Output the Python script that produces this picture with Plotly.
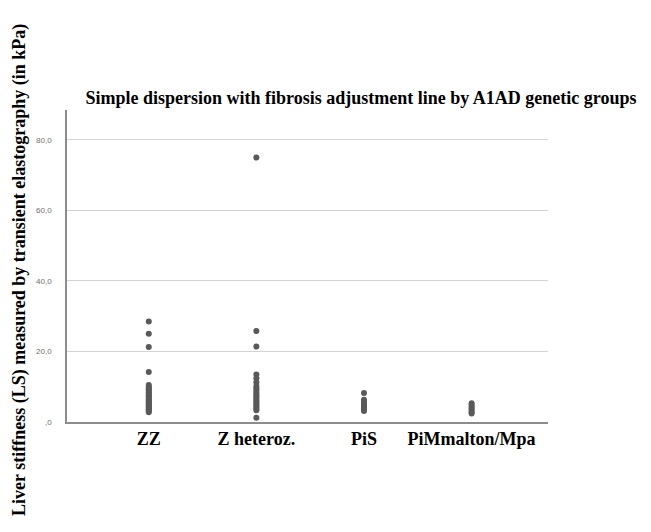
import plotly.graph_objects as go

categories = ["ZZ", "Z heteroz.", "PiS", "PiMmalton/Mpa"]
zz_values = [28.5, 25.0, 21.3, 14.2, 10.5, 10.0, 9.6, 9.2, 8.8, 8.4, 8.0, 7.6, 7.2, 6.8,
             6.5, 6.1, 5.8, 5.5, 5.2, 4.9, 4.6, 4.3, 4.0, 3.7, 3.4, 3.1, 2.8]
zhet_values = [75.0, 25.8, 21.4, 13.5, 12.4, 11.3, 10.2, 9.6, 9.0, 8.4, 7.8, 7.3, 6.8,
               6.3, 5.8, 5.3, 4.8, 4.3, 3.8, 3.3, 1.2]
pis_values = [8.2, 6.3, 5.7, 5.1, 4.6, 4.1, 3.6, 3.1]
pim_values = [5.3, 4.8, 4.3, 3.8, 3.3, 2.8, 2.4]
y_tickvals = [0, 20, 40, 60, 80]
y_ticktext = [",0", "20,0", "40,0", "60,0", "80,0"]

groups = [zz_values, zhet_values, pis_values, pim_values]
xs, ys = [], []
for cat, vals in zip(categories, groups):
    xs += [cat] * len(vals)
    ys += vals

fig = go.Figure(go.Scatter(
    x=xs, y=ys, mode="markers",
    marker=dict(color="#595959", size=6, line=dict(width=0)),
    showlegend=False,
))

OFF = 8  # default page body margin
W, H = 651 - OFF, 532 - OFF
L, T = 67 - OFF, 110 - OFF
pw, ph = 481, 312
R, B = W - L - pw, H - T - ph

fig.update_layout(
    width=W, height=H,
    paper_bgcolor="white", plot_bgcolor="white",
    margin=dict(l=L, r=R, t=T, b=B, autoexpand=False),
    title=dict(
        text="<b>Simple dispersion with fibrosis adjustment line by A1AD genetic groups</b>",
        x=(361 - OFF) / W, xref="container", xanchor="center",
        y=1 - (98 - OFF) / H, yref="container", yanchor="middle",
        font=dict(family="Liberation Serif", size=18, color="black"),
    ),
    xaxis=dict(
        type="category", categoryorder="array", categoryarray=categories,
        range=[-0.76, 3.71],
        tickvals=categories, ticktext=["<b>%s</b>" % c for c in categories],
        showline=True, linecolor="#8c8c8c", linewidth=1.5,
        showgrid=False, ticks="", zeroline=False,
        tickfont=dict(family="Liberation Serif", size=18, color="black"),
    ),
    yaxis=dict(
        range=[0, 88.5],
        tickvals=y_tickvals, ticktext=y_ticktext,
        showline=True, linecolor="#8c8c8c", linewidth=1.5,
        showgrid=True, gridcolor="#d4d4d4", gridwidth=1.2,
        zeroline=False, ticks="", ticklabelstandoff=12,
        tickfont=dict(family="Liberation Sans", size=8, color="#707070"),
    ),
    annotations=[dict(
        text="<b>Liver stiffness (LS) measured by transient elastography (in kPa)</b>",
        x=(19 - 67) / pw, y=(422 - 270) / ph, xref="paper", yref="paper",
        xanchor="center", yanchor="middle", textangle=-90, showarrow=False,
        font=dict(family="Liberation Serif", size=18, color="black"),
    )],
)

fig.write_html("out.html")
